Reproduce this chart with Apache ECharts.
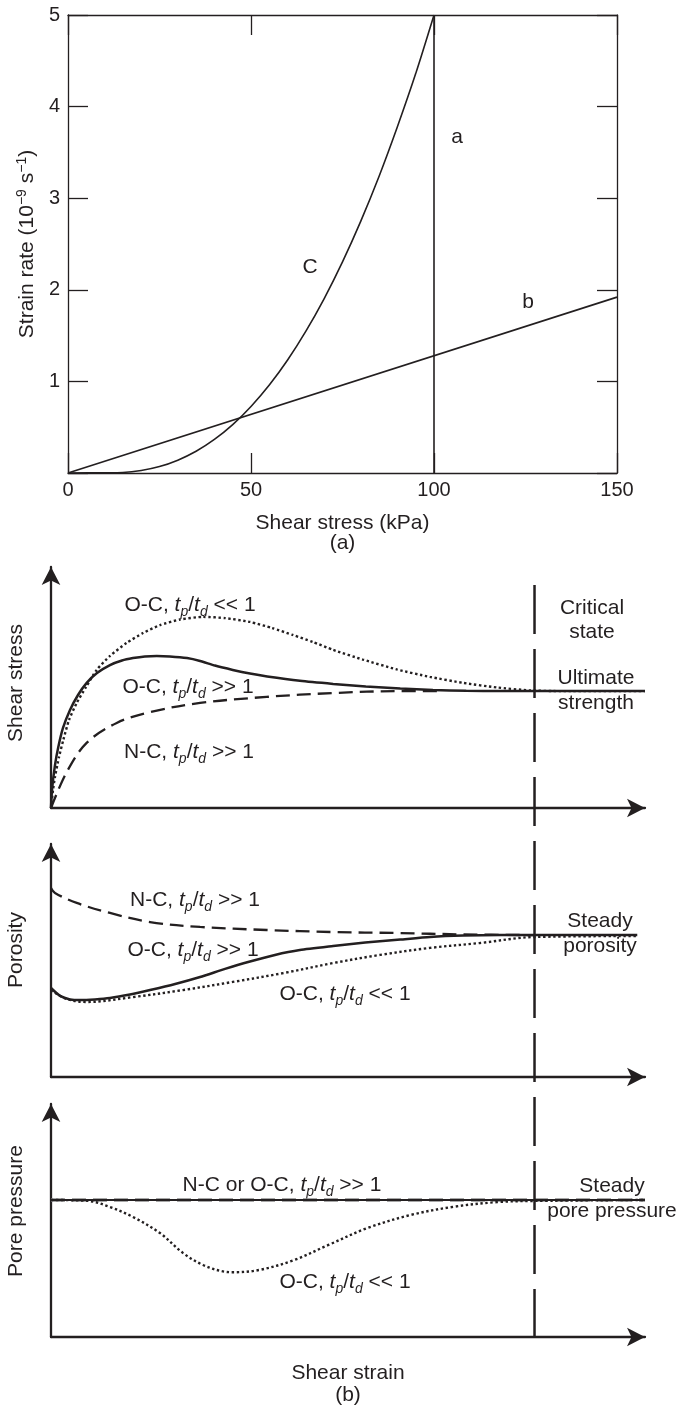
<!DOCTYPE html>
<html><head><meta charset="utf-8">
<script src="https://cdn.jsdelivr.net/npm/echarts@6/dist/echarts.min.js"></script>
<style>html,body{margin:0;padding:0;background:#fff}#c{width:678px;height:1409px}</style>
</head><body><div id="c"></div>
<script>
// ---------- Panel (a): strain rate vs shear stress ----------
const stressTicks = [0, 50, 100, 150];
const rateTicks = [0, 1, 2, 3, 4, 5];
const lineA_x = [100, 100];
const lineA_y = [0, 5];
const lineB_x = [0, 150];
const lineB_y = [0, 1.92];
const curveC_x = [0, 10, 15, 20, 25, 30, 35, 40, 45, 50, 55, 60, 65, 70, 75, 80, 85, 90, 95, 100];
const curveC_y = [0, 0.002, 0.005, 0.027, 0.07, 0.14, 0.237, 0.366, 0.528, 0.726, 0.96, 1.234, 1.549, 1.905, 2.305, 2.75, 3.24, 3.78, 4.36, 5];

// ---------- Panel (b): schematic vs shear strain (0..100) ----------
const criticalStrain_x = [81.4, 81.4];
const criticalStrain_y = [1, 0];

// Shear stress
const ssDotted_x = [0, 0.34, 0.67, 1.35, 2.07, 3.03, 4.33, 5.89, 7.69, 9.93, 12.74, 15.5, 18.35, 21.7, 25.6, 29.3, 33.5, 37.2, 40.7, 44.1, 47.5, 52.5, 58.2, 63.8, 69.4, 75.1, 80.6, 85.7, 100];
const ssDotted_y = [0, 7.5, 12.9, 21.2, 28.2, 36.5, 43.6, 50.2, 57.3, 63.1, 68.5, 72.6, 75.9, 78.2, 79.3, 78.8, 77.2, 74.7, 71.8, 68.9, 65.6, 61.6, 57.5, 54.4, 51.9, 50.0, 48.8, 48.5, 48.5];
const ssSolid_x = [0, 0.17, 0.67, 1.23, 2.02, 3.2, 4.55, 6.01, 7.74, 9.93, 11.95, 13.8, 15.8, 17.8, 20.0, 22.9, 25.1, 27.6, 30.6, 33.5, 36.4, 41.9, 47.5, 53.0, 58.8, 64.3, 69.9, 75.6, 100];
const ssSolid_y = [0, 7.5, 17.8, 25.3, 33.2, 40.7, 46.9, 51.9, 56.0, 59.3, 61.2, 62.2, 62.9, 63.1, 62.9, 62.2, 61.0, 59.1, 57.3, 55.8, 54.6, 52.8, 51.5, 50.4, 49.6, 49.0, 48.6, 48.5, 48.5];
const ssDashed_x = [0, 2.64, 6.0, 11.06, 16.67, 25.1, 36.3, 47.5, 58.8, 66];
const ssDashed_y = [0, 14.9, 27.0, 35.3, 39.8, 43.6, 46.1, 47.7, 48.5, 48.5];

// Porosity
const poDashed_x = [0, 0.67, 4.33, 9.93, 16.67, 25.1, 36.3, 47.5, 58.2, 69.4, 81.4];
const poDashed_y = [81.1, 79.0, 74.7, 70.4, 66.5, 64.4, 63.1, 62.2, 61.8, 61.2, 60.9];
const poSolid_x = [0, 1.52, 3.2, 4.88, 7.41, 9.93, 13.3, 16.67, 20.9, 25.1, 29.3, 33.5, 37.7, 41.9, 47.5, 52.9, 58.8, 63.8, 69.4, 75.6, 81.5, 98.7];
const poSolid_y = [38.2, 34.8, 33.3, 33.0, 33.3, 33.9, 35.4, 37.3, 39.9, 42.9, 46.4, 49.6, 52.4, 54.5, 56.2, 57.7, 59.0, 60.1, 60.7, 60.9, 60.9, 60.9];
const poDotted_x = [0, 2.64, 6.0, 13.8, 22.2, 30.6, 39.1, 47.5, 55.4, 63.8, 72.2, 81.4, 98.7];
const poDotted_y = [37.3, 33.5, 32.2, 34.3, 37.3, 40.8, 44.6, 48.9, 52.4, 55.4, 57.5, 60.1, 60.5];

// Pore pressure
const ppSolid_x = [0, 100];
const ppSolid_y = [58.8, 58.8];
const ppDashed_x = [0, 100];
const ppDashed_y = [58.8, 58.8];
const ppDotted_x = [0, 5.98, 9.93, 13.8, 18.35, 22.2, 25.6, 29.3, 30.7, 35.1, 40.9, 46.7, 53.3, 60.6, 67.8, 75.1, 81.4, 100];
const ppDotted_y = [58.8, 58.5, 55.8, 51.5, 44.6, 36.1, 30.9, 28.0, 27.8, 28.8, 33.0, 39.5, 46.8, 52.4, 55.9, 57.9, 58.4, 58.8];

// ---------- rendering ----------
const INK = '#231f20';
const FONT = "'Liberation Sans', Arial, Helvetica, sans-serif";
const zip = (xs, ys) => xs.map((x, i) => [x, ys[i]]);

const chart = echarts.init(document.getElementById('c'), null, { renderer: 'canvas' });

function ln(name, xi, yi, xs, ys, style, smooth) {
  return {
    type: 'line', name, xAxisIndex: xi, yAxisIndex: yi, data: zip(xs, ys),
    symbol: 'none', silent: true, smooth: smooth || false,
    lineStyle: Object.assign({ color: INK, width: 2.3, cap: 'butt' }, style)
  };
}
const DOT = { type: [2.4, 2.6], width: 2.4 };
const DASH = { type: [14, 7], width: 2.3 };
const SOLID = { width: 2.5 };

const RICH = {
  i: { fontStyle: 'italic', fontSize: 21, fontFamily: FONT, fill: INK, color: INK },
  s: { fontStyle: 'italic', fontSize: 14, fontFamily: FONT, fill: INK, color: INK, padding: [14, 0, 0, 0] }
};
function txt(x, y, text, rot) {
  return {
    type: 'text', x, y, rotation: rot || 0, silent: true,
    style: { text, fill: INK, fontSize: 21, fontFamily: FONT, align: 'center', verticalAlign: 'middle', rich: RICH }
  };
}
const TPTD = '{i|t}{s|p}/{i|t}{s|d}';

const arrowAxis = (gi) => ({
  gridIndex: gi, type: 'value', min: 0, max: 100,
  axisLine: { show: true, onZero: false, symbol: ['none', 'arrow'], symbolSize: [14, 18], lineStyle: { color: INK, width: 2.3 } },
  axisTick: { show: false }, axisLabel: { show: false }, splitLine: { show: false }
});
const frameAxisLine = { show: true, onZero: false, lineStyle: { color: INK, width: 1.3 } };
const innerTick = { show: true, inside: true, length: 20, lineStyle: { color: INK, width: 1.3 } };

const xAxes = [
  { gridIndex: 0, type: 'value', min: 0, max: 150, interval: 50, position: 'bottom',
    axisLine: frameAxisLine, axisTick: Object.assign({ customValues: stressTicks }, innerTick),
    axisLabel: { customValues: stressTicks, color: INK, fontSize: 20, fontFamily: FONT, margin: 7 },
    splitLine: { show: false },
    name: 'Shear stress (kPa)\n(a)', nameLocation: 'middle', nameGap: 40,
    nameTextStyle: { color: INK, fontSize: 21, fontFamily: FONT, lineHeight: 20 } },
  { gridIndex: 0, type: 'value', min: 0, max: 150, interval: 50, position: 'top',
    axisLine: frameAxisLine, axisTick: Object.assign({ customValues: stressTicks }, innerTick),
    axisLabel: { show: false }, splitLine: { show: false } },
  arrowAxis(1), arrowAxis(2),
  Object.assign(arrowAxis(3), { name: 'Shear strain\n(b)', nameLocation: 'middle', nameGap: 25,
    nameTextStyle: { color: INK, fontSize: 21, fontFamily: FONT, lineHeight: 22 } }),
  { gridIndex: 4, type: 'value', min: 0, max: 100, show: false }
];
const yAxes = [
  { gridIndex: 0, type: 'value', min: 0, max: 5, interval: 1, position: 'left',
    axisLine: frameAxisLine, axisTick: Object.assign({ customValues: rateTicks }, innerTick),
    axisLabel: { customValues: rateTicks.filter(v => v !== 0), color: INK, fontSize: 20, fontFamily: FONT, margin: 8 },
    splitLine: { show: false },
    name: 'Strain rate (10{sup|−9} s{sup|−1})', nameLocation: 'middle', nameRotate: 90, nameGap: 27,
    nameTextStyle: { color: INK, fontSize: 21, fontFamily: FONT,
      rich: { sup: { fontSize: 14, color: INK, fontFamily: FONT, padding: [0, 0, 10, 0] } } } },
  { gridIndex: 0, type: 'value', min: 0, max: 5, interval: 1, position: 'right',
    axisLine: frameAxisLine, axisTick: Object.assign({ customValues: rateTicks }, innerTick),
    axisLabel: { show: false }, splitLine: { show: false } },
  arrowAxis(1), arrowAxis(2), arrowAxis(3),
  { gridIndex: 4, type: 'value', min: 0, max: 1, show: false }
];

const option = {
  animation: false,
  backgroundColor: '#ffffff',
  textStyle: { fontFamily: FONT, color: INK },
  grid: [
    { left: 68, top: 15, width: 549, height: 458, containLabel: false, outerBoundsMode: 'none' },
    { left: 51, top: 567, width: 594, height: 241, containLabel: false, outerBoundsMode: 'none' },
    { left: 51, top: 844, width: 594, height: 233, containLabel: false, outerBoundsMode: 'none' },
    { left: 51, top: 1104, width: 594, height: 233, containLabel: false, outerBoundsMode: 'none' },
    { left: 51, top: 585, width: 594, height: 752, containLabel: false, outerBoundsMode: 'none' }
  ],
  xAxis: xAxes,
  yAxis: yAxes,
  series: [
    ln('a', 0, 0, lineA_x, lineA_y, { width: 1.6 }),
    ln('b', 0, 0, lineB_x, lineB_y, { width: 1.6 }),
    ln('C', 0, 0, curveC_x, curveC_y, { width: 1.6 }, 0.3),

    ln('Shear stress N-C', 2, 2, ssDashed_x, ssDashed_y, DASH, 0.35),
    ln('Shear stress O-C >>1', 2, 2, ssSolid_x, ssSolid_y, SOLID, 0.2),
    ln('Shear stress O-C <<1', 2, 2, ssDotted_x, ssDotted_y, DOT, 0.2),

    ln('Porosity N-C', 3, 3, poDashed_x, poDashed_y, DASH, 0.35),
    ln('Porosity O-C >>1', 3, 3, poSolid_x, poSolid_y, SOLID, 0.2),
    ln('Porosity O-C <<1', 3, 3, poDotted_x, poDotted_y, DOT, 0.35),

    ln('Pore pressure dashed', 4, 4, ppDashed_x, ppDashed_y, { type: [14, 7], width: 3.5, color: '#8a8a8a' }),
    ln('Pore pressure >>1', 4, 4, ppSolid_x, ppSolid_y, { width: 2 }),
    ln('Pore pressure O-C <<1', 4, 4, ppDotted_x, ppDotted_y, DOT, 0.35),

    ln('Critical state', 5, 5, criticalStrain_x, criticalStrain_y, { type: [49, 15], width: 2.5 })
  ],
  graphic: [
    txt(457, 137, 'a'), txt(528, 302, 'b'), txt(310, 267, 'C'),
    txt(16, 683, 'Shear stress', Math.PI / 2),
    txt(16, 950, 'Porosity', Math.PI / 2),
    txt(16, 1211, 'Pore pressure', Math.PI / 2),
    txt(190, 605, 'O-C, ' + TPTD + ' << 1'),
    txt(188, 687, 'O-C, ' + TPTD + ' >> 1'),
    txt(189, 752, 'N-C, ' + TPTD + ' >> 1'),
    txt(592, 608, 'Critical'), txt(592, 632, 'state'),
    txt(596, 678, 'Ultimate'), txt(596, 703, 'strength'),
    txt(195, 900, 'N-C, ' + TPTD + ' >> 1'),
    txt(193, 950, 'O-C, ' + TPTD + ' >> 1'),
    txt(345, 994, 'O-C, ' + TPTD + ' << 1'),
    txt(600, 921, 'Steady'), txt(600, 946, 'porosity'),
    txt(282, 1185, 'N-C or O-C, ' + TPTD + ' >> 1'),
    txt(612, 1186, 'Steady'), txt(612, 1211, 'pore pressure'),
    txt(345, 1282, 'O-C, ' + TPTD + ' << 1')
  ]
};
chart.setOption(option);
</script></body></html>
